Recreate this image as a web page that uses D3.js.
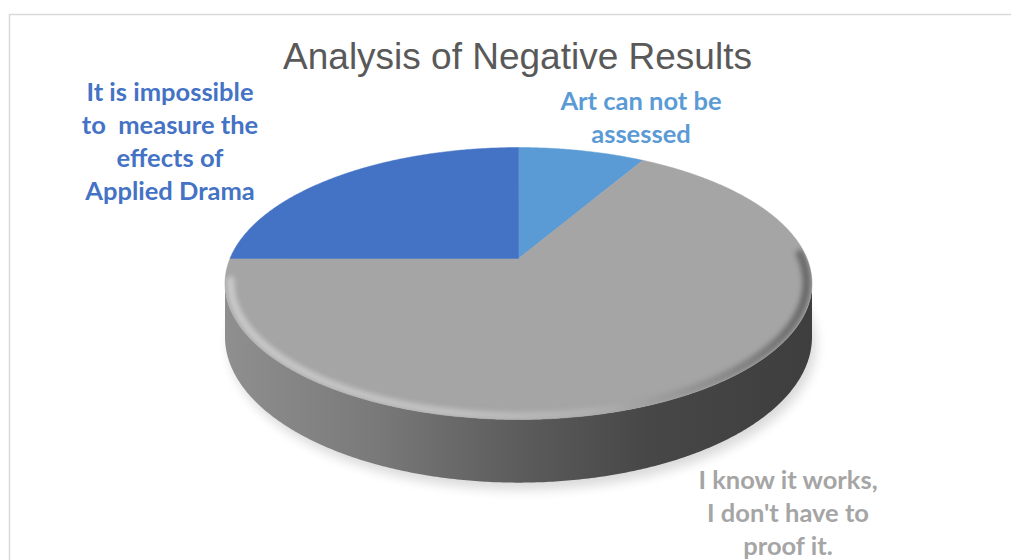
<!DOCTYPE html>
<html>
<head>
<meta charset="utf-8">
<script src="https://cdn.jsdelivr.net/npm/d3@7"></script>
<style>
  html, body { margin: 0; padding: 0; background: #ffffff; }
  svg { display: block; }
</style>
</head>
<body>
<svg id="chart" width="1011" height="560"></svg>
<script>
// ---- data ----
const title = "Analysis of Negative Results";
const categories = [
  "Art can not be assessed",
  "I know it works, I don't have to proof it.",
  "It is impossible to measure the effects of Applied Drama"
];
const values = [1, 8, 3];
const colors = ["#5B9BD5", "#A5A5A5", "#4472C4"];
const labelLines = [
  ["Art can not be", "assessed"],
  ["I know it works,", "I don't have to", "proof it."],
  ["It is impossible", "to  measure the", "effects of", "Applied Drama"]
];

// ---- layout ----
const svg = d3.select("#chart");
const defs = svg.append("defs");

// chart border
svg.append("rect")
  .attr("x", 9.5).attr("y", 14.5)
  .attr("width", 1030).attr("height", 580)
  .attr("fill", "none").attr("stroke", "#d9d9d9").attr("stroke-width", 1.5);

// title
svg.append("text")
  .attr("x", 517.5).attr("y", 69)
  .attr("text-anchor", "middle")
  .attr("font-family", "'Liberation Sans', Arial, sans-serif")
  .attr("font-size", 37)
  .attr("fill", "#595959")
  .text(title);

// perspective projection of the pie disc
const P = { cx: 518.5, cy: 258.5, A: 288.5, B: 131.4, k: 0.184, H: 51.5 };
function proj(a, r, z) {
  const u = r * Math.sin(a), v = -r * Math.cos(a);
  const w = 1 - P.k * v;
  return [P.cx + P.A * u / w, P.cy + (P.B * v + P.H * z) / w];
}
const line = d3.line();
const step = Math.PI / 360;
function arcPts(a0, a1, r, z) {
  const pts = [];
  const n = Math.max(2, Math.ceil(Math.abs(a1 - a0) / step));
  for (let i = 0; i <= n; i++) pts.push(proj(a0 + (a1 - a0) * i / n, r, z));
  return pts;
}

const arcs = d3.pie().sort(null).value(d => d)(values);

// front arc limits (silhouette tangent points)
const aR = Math.acos(-P.k), aL = 2 * Math.PI - Math.acos(-P.k);

// shadow
const fShadow = defs.append("filter").attr("id", "shadow")
  .attr("x", "-20%").attr("y", "-20%").attr("width", "140%").attr("height", "140%");
fShadow.append("feGaussianBlur").attr("stdDeviation", 6);
svg.append("path")
  .attr("d", line(arcPts(0, 2 * Math.PI, 1.0, 1)) + "Z")
  .attr("transform", "translate(4,7)")
  .attr("fill", "#000").attr("opacity", 0.15)
  .attr("filter", "url(#shadow)");

// side gradient
const sg = defs.append("linearGradient").attr("id", "sideGrad")
  .attr("gradientUnits", "userSpaceOnUse")
  .attr("x1", 225).attr("x2", 812).attr("y1", 0).attr("y2", 0);
[[0, "#8f8f8f"], [0.25, "#7a7a7a"], [0.5, "#5c5c5c"], [0.72, "#474747"], [1, "#3e3e3e"]]
  .forEach(([o, c]) => sg.append("stop").attr("offset", o).attr("stop-color", c));

const sidePts = arcPts(aR, aL, 1, 0).concat(arcPts(aL, aR, 1, 1));
svg.append("path")
  .attr("d", line(sidePts) + "Z")
  .attr("fill", "url(#sideGrad)");

// top face slices
svg.append("g").selectAll("path")
  .data(arcs)
  .join("path")
  .attr("d", d => line([proj(0, 0, 0)].concat(arcPts(d.startAngle, d.endAngle, 1, 0))) + "Z")
  .attr("fill", (d, i) => colors[i])
  .attr("stroke", (d, i) => colors[i]).attr("stroke-width", 0.5);

// bevel rim on the top face edge
defs.append("clipPath").attr("id", "topClip")
  .append("path").attr("d", line(arcPts(0, 2 * Math.PI, 1, 0)) + "Z");
const rg = defs.append("linearGradient").attr("id", "rimGrad")
  .attr("gradientUnits", "userSpaceOnUse")
  .attr("x1", 225).attr("x2", 812).attr("y1", 0).attr("y2", 0);
[[0, "#cdcdcd"], [0.4, "#c4c4c4"], [0.62, "#b2b2b2"], [0.82, "#8c8c8c"], [1, "#606060"]]
  .forEach(([o, c]) => rg.append("stop").attr("offset", o).attr("stop-color", c));
const fRim = defs.append("filter").attr("id", "rimBlur")
  .attr("x", "-10%").attr("y", "-10%").attr("width", "120%").attr("height", "120%");
fRim.append("feGaussianBlur").attr("stdDeviation", 2.4);
svg.append("g").attr("clip-path", "url(#topClip)")
  .append("path")
  .attr("d", line(arcPts(aR - 0.22, aL + 0.02, 0.982, 0)))
  .attr("fill", "none")
  .attr("stroke", "url(#rimGrad)")
  .attr("stroke-width", 8)
  .attr("stroke-linecap", "round")
  .attr("opacity", 0.9)
  .attr("filter", "url(#rimBlur)");

// data labels
const labelPos = [
  { x: 641, y: 110 },
  { x: 788, y: 489 },
  { x: 170, y: 101 }
];
const lineH = 33;
const lg = svg.append("g")
  .attr("font-family", "Lato, 'Open Sans', sans-serif")
  .attr("font-weight", 700)
  .attr("font-size", 25.5)
  .attr("text-anchor", "middle");
labelLines.forEach((lines, i) => {
  const t = lg.append("text").attr("fill", colors[i]).attr("xml:space", "preserve");
  lines.forEach((s, j) => {
    t.append("tspan")
      .attr("x", labelPos[i].x)
      .attr("y", labelPos[i].y + j * lineH)
      .text(s);
  });
});
</script>
</body>
</html>
